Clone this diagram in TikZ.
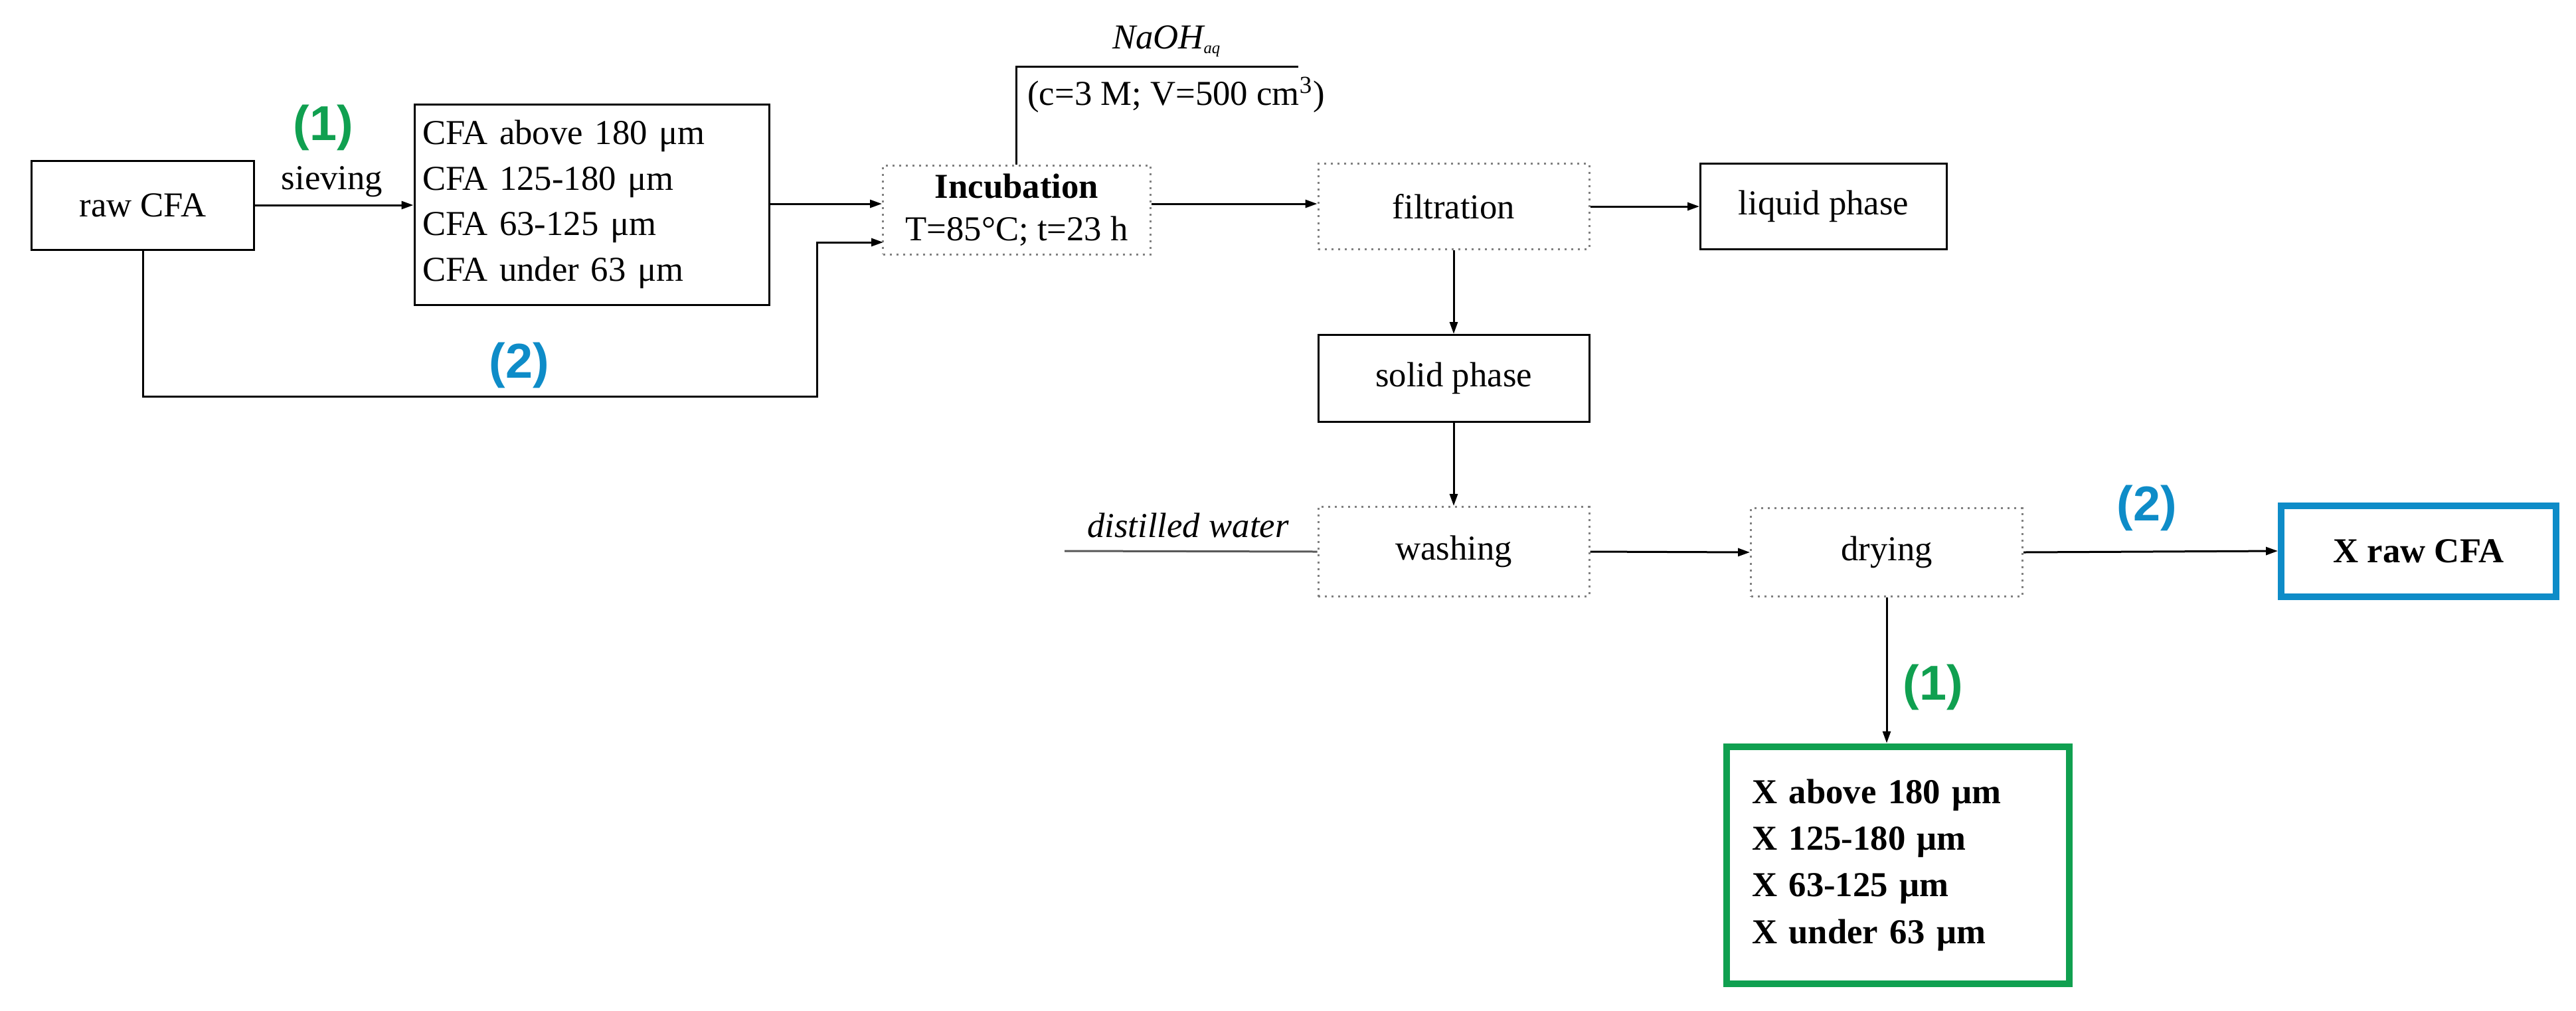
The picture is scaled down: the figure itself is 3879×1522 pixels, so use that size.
\documentclass[tikz,border=0pt]{standalone}
\usepackage{fontspec}
\setmainfont{Liberation Serif}
\newfontfamily\lblfont{Liberation Sans}
\usetikzlibrary{arrows.meta}
\definecolor{pgreen}{RGB}{16,160,80}
\definecolor{pblue}{RGB}{14,140,200}
\begin{document}
\begin{tikzpicture}[x=0.1mm,y=-0.1mm,
  every node/.style={font=\fontsize{15}{19.5}\selectfont},
  sbox/.style={draw,line width=0.3mm,inner sep=0pt,align=center},
  dbox/.style={draw=gray,dotted,line width=0.3mm,inner sep=0pt,align=center},
  arr/.style={line width=0.3mm,-{Triangle[length=1.8mm,width=1.2mm]}},
  ln/.style={line width=0.3mm},
  num/.style={font=\lblfont\bfseries\fontsize{21}{24}\selectfont}]
\useasboundingbox[fill=white] (0,0) rectangle (3879,1522);
\node[sbox,minimum width=33.5mm,minimum height=13.4mm] (raw) at (215,309) {raw CFA};
\node[sbox,minimum width=53.4mm,minimum height=30.2mm,align=left,text width=51mm] (siev) at (891,308)
  {CFA above 180 μm\\CFA 125-180 μm\\CFA 63-125 μm\\CFA under 63 μm};
\node[dbox,minimum width=40.3mm,minimum height=13.4mm] (inc) at (1531,316)
  {\textbf{Incubation}\\[-0.5mm]T=85°C; t=23 h};
\node[dbox,minimum width=40.8mm,minimum height=12.9mm] (filt) at (2189,311) {filtration};
\node[sbox,minimum width=37.1mm,minimum height=12.9mm] (liq) at (2746,311) {liquid phase};
\node[sbox,minimum width=40.8mm,minimum height=13.1mm] (sol) at (2189,570) {solid phase};
\node[dbox,minimum width=40.8mm,minimum height=13.5mm] (wash) at (2189,831) {washing};
\node[dbox,minimum width=40.9mm,minimum height=13.3mm] (dry) at (2841,832) {drying};
\node[draw=pblue,line width=1mm,minimum width=41.4mm,minimum height=13.7mm,font=\fontsize{15}{19.5}\selectfont\bfseries] (xraw) at (3642,830) {X raw CFA};
\node[draw=pgreen,line width=1mm,minimum width=51.6mm,minimum height=35.7mm,align=left,text width=44mm,font=\fontsize{15}{20}\selectfont\bfseries] (xs) at (2858,1303)
  {X above 180 μm\\X 125-180 μm\\X 63-125 μm\\X under 63 μm};
% connectors
\draw[arr] (raw.east) -- (raw.east -| siev.west);
\node[font=\fontsize{15}{17}\selectfont] (sievlbl) at (500,274) {sieving};
\node[num,text=pgreen] (n1a) at (487,192) {(1)};
\draw[arr] (siev.east |- 0,307) -- (inc.west |- 0,307);
\coordinate (turn) at (1230,597);
\coordinate (incin) at (1330,365);
\draw[arr] (raw.south) |- (turn) -- (turn |- incin) -- (incin);
\node[num,text=pblue] (n2a) at (782,550) {(2)};
\coordinate (naoh) at (1955,100);
\draw[ln] (inc.north -| 1530,0) -- (1530,100) -- (naoh);
\node[font=\fontsize{15}{17}\selectfont\itshape] (naohl) at (1757,62) {NaOH\textsubscript{\fontsize{7}{7}\selectfont aq}};
\node[anchor=west] (conc) at (1535,143) {(c=3 M; V=500 cm\textsuperscript{3})};
\draw[arr] (inc.east |- 0,307) -- (filt.west |- 0,307);
\draw[arr] (filt.east) -- (liq.west);
\draw[arr] (filt.south) -- (sol.north);
\draw[arr] (sol.south) -- (wash.north);
\coordinate (dw) at (1603,830);
\draw[ln,gray!70!black] (dw) -- (wash.west);
\node[font=\fontsize{15}{17}\selectfont\itshape,anchor=south west] (dwl) at (1625,822) {distilled water};
\draw[arr] (wash.east) -- (dry.west);
\draw[arr] (dry.east) -- (xraw.west);
\node[num,text=pblue] (n2b) at (3233,765) {(2)};
\draw[arr] (dry.south) -- (xs.north -| dry.south);
\node[num,text=pgreen] (n1b) at (2911,1035) {(1)};
\end{tikzpicture}
\end{document}
